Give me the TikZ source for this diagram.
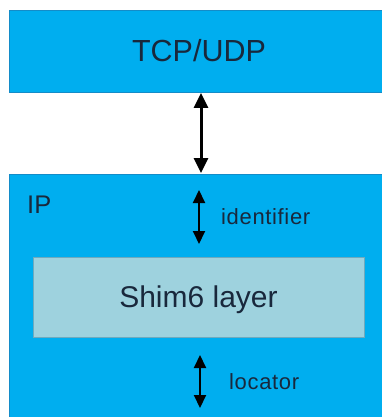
\documentclass[tikz,border=0pt]{standalone}
\usepackage{fontspec}
\setmainfont{Liberation Sans}
\usetikzlibrary{arrows.meta}
\definecolor{layerblue}{RGB}{0,174,239}
\definecolor{layeredge}{RGB}{20,140,200}
\definecolor{shimfill}{RGB}{158,210,222}
\definecolor{shimedge}{RGB}{110,170,190}
\definecolor{txt}{RGB}{25,40,60}
\tikzset{
  layer/.style={fill=layerblue, draw=layeredge, line width=0.8pt},
  shimbox/.style={fill=shimfill, draw=shimedge, line width=0.8pt},
  bigarrow/.style={line width=3pt, {Triangle[width=14pt,length=15pt]}-{Triangle[width=14pt,length=15pt]}},
  smallarrow/.style={line width=2pt, {Triangle[width=12pt,length=13pt]}-{Triangle[width=12pt,length=13pt]}},
  lbl/.style={text=txt, inner sep=0pt},
  side/.style={lbl, anchor=base west, font=\fontsize{22}{26}\selectfont\addfontfeature{LetterSpace=3}}
}
\begin{document}
\begin{tikzpicture}[x=1pt,y=-1pt]
\useasboundingbox (0,0) rectangle (382,417);
\fill[white] (0,0) rectangle (382,417);
% layers
\draw[layer] (9,10) rectangle (384,92);
\draw[layer] (9,174) rectangle (384,419);
\draw[shimbox] (33,257) rectangle (364,337);
% named anchors
\coordinate (tcpb) at (201,93);
\coordinate (ipt) at (201,173);
\coordinate (idt) at (199,190);
\coordinate (idb) at (199,244);
\coordinate (lot) at (200,355);
\coordinate (lob) at (200,408);
% texts
\node[lbl, anchor=base, font=\fontsize{30.5}{34}\selectfont] (tcp) at (199,62) {TCP/UDP};
\node[lbl, anchor=base west, font=\fontsize{25.5}{28}\selectfont] (ip) at (27,213) {IP};
\node[lbl, anchor=base, font=\fontsize{30}{34}\selectfont] (shim) at (198.5,307) {Shim6 layer};
\node[side] (ident) at (221,224) {identifier};
\node[side] (loc) at (229,389) {locator};
% arrows
\draw[bigarrow] (tcpb) -- (ipt);
\draw[smallarrow] (idt) -- (idb);
\draw[smallarrow] (lot) -- (lob);
\end{tikzpicture}
\end{document}
